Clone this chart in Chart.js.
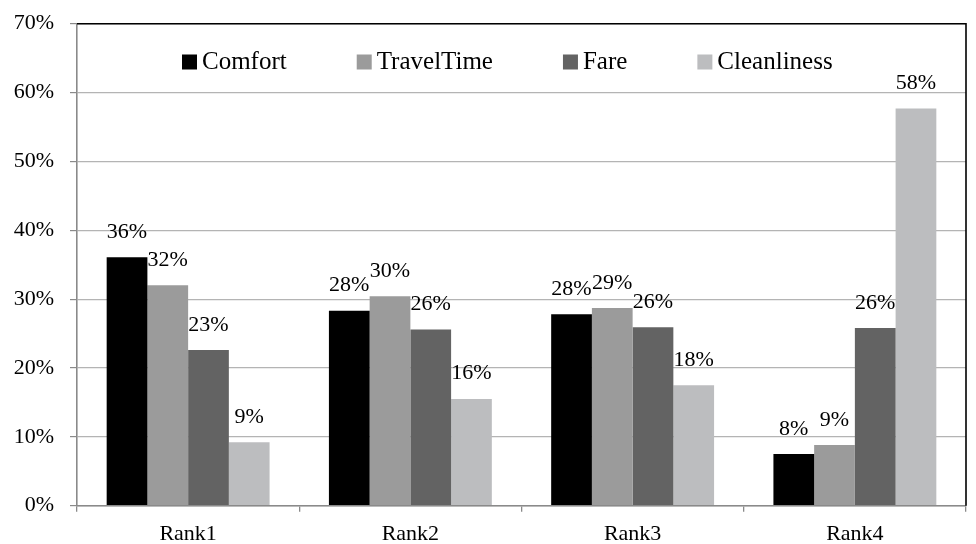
<!DOCTYPE html>
<html>
<head>
<meta charset="utf-8">
<script src="https://cdn.jsdelivr.net/npm/chart.js@4/dist/chart.umd.min.js"></script>
<style>
  html, body { margin: 0; padding: 0; background: #ffffff; }
  #wrap { width: 976px; height: 544px; position: relative; }
</style>
</head>
<body>
<div id="wrap"><canvas id="c" width="976" height="544"></canvas></div>
<script>
// Share of respondents (%) placing each attribute at each rank
const categories = ['Rank1', 'Rank2', 'Rank3', 'Rank4'];
const comfort     = [36.1, 28.3, 27.8, 7.5];
const travelTime  = [32.0, 30.4, 28.7, 8.8];
const fare        = [22.6, 25.6, 25.9, 25.8];
const cleanliness = [9.2, 15.5, 17.5, 57.7];
const yTicks = [0, 10, 20, 30, 40, 50, 60, 70];

const FONT = '"Liberation Serif", "Times New Roman", serif';

// Legend drawn inside the plot area, under the top border
const innerLegend = {
  id: 'innerLegend',
  afterDraw(chart) {
    const ctx = chart.ctx;
    const area = chart.chartArea;
    ctx.save();
    ctx.font = '25px ' + FONT;
    ctx.textBaseline = 'alphabetic';
    ctx.textAlign = 'left';
    let x = area.left + 105;
    const boxTop = 54.5, box = 15, baseline = 69;
    chart.data.datasets.forEach(ds => {
      ctx.fillStyle = ds.backgroundColor;
      ctx.fillRect(x, boxTop, box, box);
      x += box + 5;
      ctx.fillStyle = '#000000';
      ctx.fillText(ds.label, x, baseline);
      x += ctx.measureText(ds.label).width + 70;
    });
    ctx.restore();
  }
};

// Value labels above each bar
const valueLabels = {
  id: 'valueLabels',
  afterDatasetsDraw(chart) {
    const ctx = chart.ctx;
    ctx.save();
    ctx.font = '22px ' + FONT;
    ctx.fillStyle = '#000000';
    ctx.textAlign = 'center';
    ctx.textBaseline = 'alphabetic';
    chart.data.datasets.forEach((ds, i) => {
      chart.getDatasetMeta(i).data.forEach((bar, j) => {
        ctx.fillText(Math.round(ds.data[j]) + '%', bar.x, bar.y - 19.5);
      });
    });
    ctx.restore();
  }
};

// Black frame on the top and right sides of the plot
const frame = {
  id: 'frame',
  afterDraw(chart) {
    const ctx = chart.ctx;
    const a = chart.chartArea;
    ctx.save();
    ctx.strokeStyle = '#000000';
    ctx.lineWidth = 1.6;
    ctx.beginPath();
    ctx.moveTo(a.left, a.top);
    ctx.lineTo(a.right, a.top);
    ctx.lineTo(a.right, a.bottom);
    ctx.stroke();
    ctx.restore();
  }
};

new Chart(document.getElementById('c'), {
  type: 'bar',
  data: {
    labels: categories,
    datasets: [
      { label: 'Comfort',     data: comfort,     backgroundColor: '#000000' },
      { label: 'TravelTime',  data: travelTime,  backgroundColor: '#9b9b9b' },
      { label: 'Fare',        data: fare,        backgroundColor: '#636363' },
      { label: 'Cleanliness', data: cleanliness, backgroundColor: '#bcbdbf' }
    ]
  },
  options: {
    responsive: false,
    animation: false,
    devicePixelRatio: 1,
    layout: { padding: { left: 0, top: 23.7, right: 10, bottom: 0 } },
    datasets: { bar: { categoryPercentage: 0.733, barPercentage: 1.0, borderWidth: 0 } },
    plugins: {
      legend: { display: false },
      tooltip: { enabled: false }
    },
    scales: {
      x: {
        grid: {
          offset: true,
          drawOnChartArea: false,
          drawTicks: true,
          tickLength: 6,
          tickColor: '#8a8a8a',
          lineWidth: 1.3
        },
        border: { display: true, color: '#8a8a8a', width: 1.6 },
        ticks: {
          color: '#000000',
          font: { family: FONT, size: 22 },
          padding: 9
        },
        afterFit(s) { s.height = 38.3; }
      },
      y: {
        min: 0,
        max: 70,
        afterBuildTicks(s) { s.ticks = yTicks.map(v => ({ value: v })); },
        grid: {
          color: '#b4b4b4',
          lineWidth: 1.2,
          drawTicks: true,
          tickLength: 7,
          tickColor: '#8a8a8a'
        },
        border: { display: true, color: '#8a8a8a', width: 1.6 },
        ticks: {
          color: '#000000',
          font: { family: FONT, size: 22 },
          padding: 16,
          callback: v => v + '%'
        },
        afterFit(s) {
          s.width = 77;
          s.paddingTop = 0;
          s.paddingBottom = 0;
        }
      }
    }
  },
  plugins: [valueLabels, frame, innerLegend]
});
</script>
</body>
</html>
